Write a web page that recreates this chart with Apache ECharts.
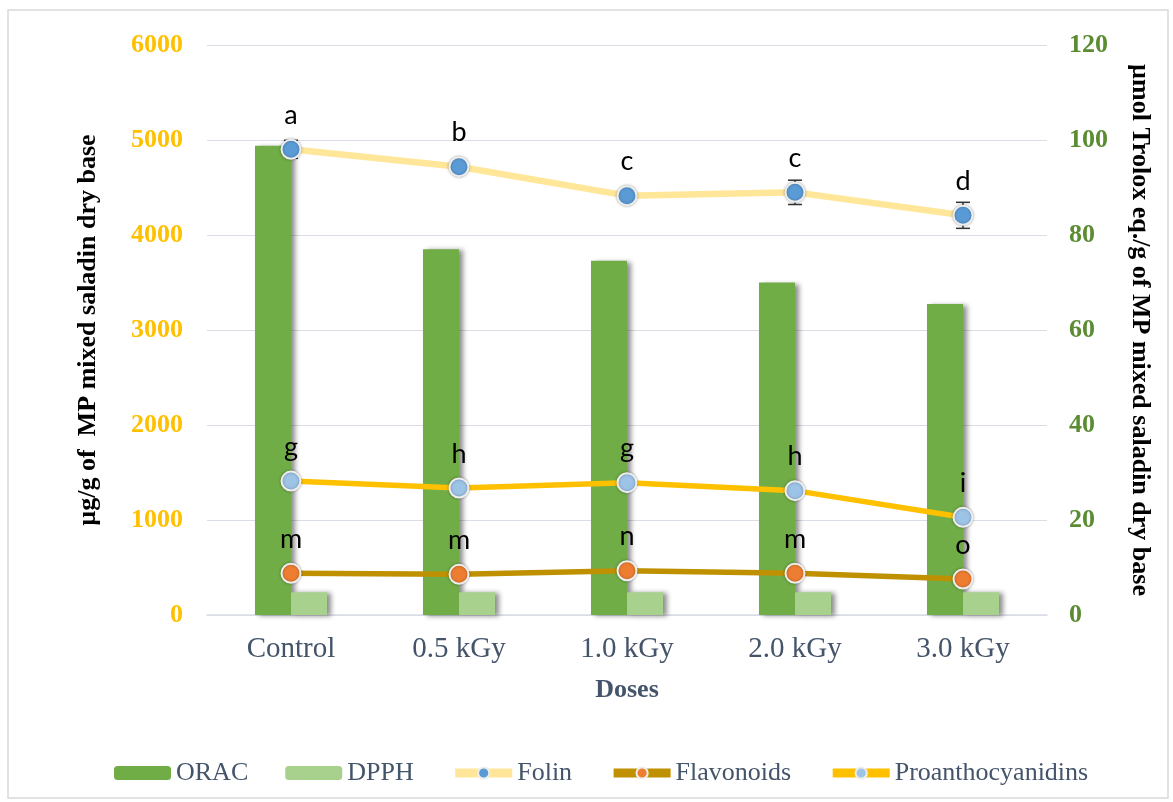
<!DOCTYPE html>
<html>
<head>
<meta charset="utf-8">
<script src="https://cdn.jsdelivr.net/npm/echarts@6/dist/echarts.min.js"></script>
<style>html,body{margin:0;padding:0;background:#fff;}#c{width:1173px;height:802px;}</style>
</head>
<body>
<div id="c"></div>
<script>
const categories = ['Control', '0.5 kGy', '1.0 kGy', '2.0 kGy', '3.0 kGy'];
const leftTicks = [0, 1000, 2000, 3000, 4000, 5000, 6000];
const rightTicks = [0, 20, 40, 60, 80, 100, 120];
const orac = [98.8, 77.0, 74.6, 70.0, 65.5];
const dpph = [4.8, 4.8, 4.8, 4.8, 4.8];
const folin = [4902, 4719, 4414, 4449, 4207];
const folinErr = [95, 60, 60, 128, 137];
const flavonoids = [439, 428, 466, 439, 379];
const proanthocyanidins = [1410, 1337, 1393, 1309, 1028];
const folinLetters = ['a', 'b', 'c', 'c', 'd'];
const proLetters = ['g', 'h', 'g', 'h', 'i'];
const flavLetters = ['m', 'm', 'n', 'm', 'o'];

const chart = echarts.init(document.getElementById('c'));
const serif = 'Liberation Serif';
const letterLabel = (arr) => ({
  show: true, position: 'top', distance: 10,
  formatter: p => arr[p.dataIndex],
  fontFamily: 'Lato', fontSize: 27, color: '#000'
});
const marker = (c) => ({
  color: c, borderColor: '#eeeeee', borderWidth: 2,
  shadowColor: 'rgba(0,0,0,0.3)', shadowBlur: 3
});
const barShadow = { shadowColor: 'rgba(0,0,0,0.45)', shadowBlur: 5, shadowOffsetX: 4, shadowOffsetY: 1 };

chart.setOption({
  animation: false,
  backgroundColor: '#fff',
  graphic: [{
    type: 'rect', shape: { x: 8, y: 10, width: 1160, height: 788 },
    style: { fill: 'none', stroke: '#d9d9d9', lineWidth: 1.5 }, z: -10
  }],
  grid: { left: 207, right: 126, top: 45, bottom: 187 },
  legend: {
    left: 109, top: 755,
    itemWidth: 57, itemHeight: 14, itemGap: 37,
    lineStyle: { width: 9 },
    textStyle: { fontFamily: serif, fontSize: 26, color: '#44546A' },
    data: ['ORAC', 'DPPH', 'Folin', 'Flavonoids', 'Proanthocyanidins']
  },
  xAxis: {
    type: 'category', data: categories,
    name: 'Doses', nameLocation: 'middle', nameGap: 62,
    nameTextStyle: { fontFamily: serif, fontWeight: 'bold', fontSize: 26, color: '#44546A' },
    axisLine: { lineStyle: { color: '#D9DEE6', width: 1.5 } },
    axisTick: { show: false },
    axisLabel: { fontFamily: serif, fontSize: 29, color: '#44546A', margin: 20 }
  },
  yAxis: [{
    type: 'value', min: leftTicks[0], max: leftTicks[leftTicks.length - 1], interval: 1000,
    name: 'µg/g of  MP mixed saladin dry base', nameLocation: 'middle', nameGap: 106,
    nameTextStyle: { fontFamily: serif, fontWeight: 'bold', fontSize: 26, color: '#000' },
    axisLine: { show: false }, axisTick: { show: false },
    axisLabel: { fontFamily: serif, fontWeight: 'bold', fontSize: 26, color: '#FFC000', margin: 24, formatter: v => String(v) },
    splitLine: { lineStyle: { color: '#D9DEE6', width: 1.2 } }
  }, {
    type: 'value', min: rightTicks[0], max: rightTicks[rightTicks.length - 1], interval: 20,
    name: 'µmol Trolox eq./g of MP mixed saladin dry base', nameLocation: 'middle', nameGap: 80, nameRotate: -90,
    nameTextStyle: { fontFamily: serif, fontWeight: 'bold', fontSize: 26, color: '#000' },
    axisLine: { show: false }, axisTick: { show: false },
    axisLabel: { fontFamily: serif, fontWeight: 'bold', fontSize: 26, color: '#5B8C32', margin: 22, formatter: v => String(v) },
    splitLine: { show: false }
  }],
  series: [{
    name: 'ORAC', type: 'bar', yAxisIndex: 1, data: orac,
    barWidth: 36, barGap: '0%',
    itemStyle: Object.assign({ color: '#70AD47' }, barShadow)
  }, {
    name: 'DPPH', type: 'bar', yAxisIndex: 1, data: dpph,
    barWidth: 36, barGap: '0%',
    itemStyle: Object.assign({ color: '#A9D18E' }, barShadow)
  }, {
    name: 'FolinErr', type: 'custom', yAxisIndex: 0, z: 2,
    data: categories.map((c, i) => [i, folin[i], folinErr[i]]),
    renderItem: (params, api) => {
      const x = api.value(0), y = api.value(1), e = api.value(2);
      const t = api.coord([x, y + e]), b = api.coord([x, y - e]);
      const hw = 7;
      const st = { stroke: '#333', lineWidth: 1.5 };
      return { type: 'group', children: [
        { type: 'line', shape: { x1: t[0], y1: t[1], x2: b[0], y2: b[1] }, style: st },
        { type: 'line', shape: { x1: t[0] - hw, y1: t[1], x2: t[0] + hw, y2: t[1] }, style: st },
        { type: 'line', shape: { x1: b[0] - hw, y1: b[1], x2: b[0] + hw, y2: b[1] }, style: st }
      ]};
    },
    tooltip: { show: false }
  }, {
    name: 'Folin', type: 'line', yAxisIndex: 0, data: folin, z: 5,
    symbol: 'circle', symbolSize: 19,
    lineStyle: { color: '#FFE699', width: 6.5 },
    itemStyle: marker('#5B9BD5'),
    label: letterLabel(folinLetters)
  }, {
    name: 'Flavonoids', type: 'line', yAxisIndex: 0, data: flavonoids, z: 5,
    symbol: 'circle', symbolSize: 19,
    lineStyle: { color: '#BF9000', width: 5.5 },
    itemStyle: marker('#ED7D31'),
    label: letterLabel(flavLetters)
  }, {
    name: 'Proanthocyanidins', type: 'line', yAxisIndex: 0, data: proanthocyanidins, z: 5,
    symbol: 'circle', symbolSize: 19,
    lineStyle: { color: '#FFC000', width: 5.5 },
    itemStyle: marker('#9DC3E6'),
    label: letterLabel(proLetters)
  }]
});
</script>
</body>
</html>
